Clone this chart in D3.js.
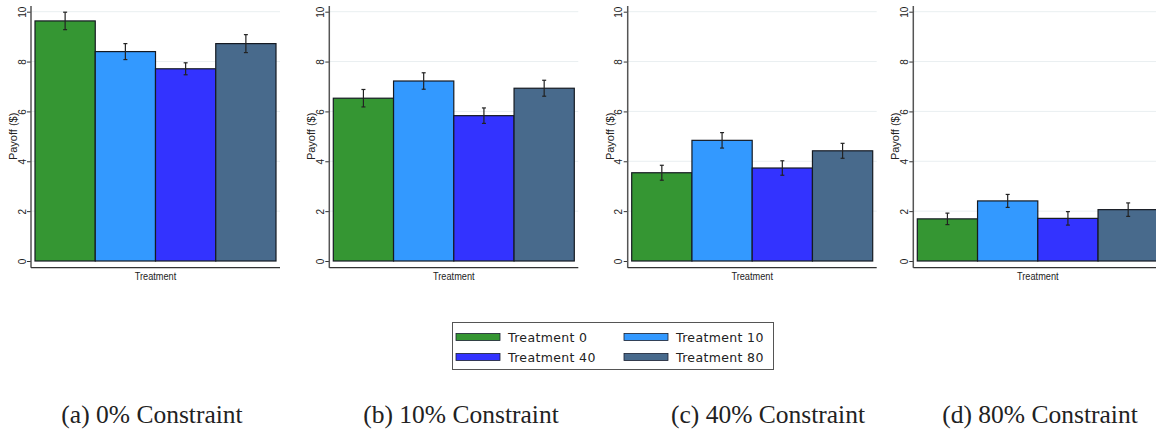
<!DOCTYPE html>
<html><head><meta charset="utf-8">
<script src="https://cdn.jsdelivr.net/npm/d3@7"></script>
<style>
html,body{margin:0;padding:0;background:#fff;overflow:hidden;}
svg{display:block;}
</style></head>
<body>
<svg id="chart" width="1156" height="430"></svg>
<script>
// ---- data ----
const categories = ["Treatment 0", "Treatment 10", "Treatment 40", "Treatment 80"];
const panelTitles = ["(a) 0% Constraint", "(b) 10% Constraint", "(c) 40% Constraint", "(d) 80% Constraint"];
const values0  = [9.63, 8.40, 7.71, 8.72];
const errors0  = [0.35, 0.32, 0.24, 0.36];
const values10 = [6.53, 7.22, 5.83, 6.93];
const errors10 = [0.35, 0.33, 0.31, 0.32];
const values40 = [3.54, 4.84, 3.73, 4.42];
const errors40 = [0.30, 0.31, 0.29, 0.30];
const values80 = [1.69, 2.41, 1.71, 2.06];
const errors80 = [0.23, 0.26, 0.27, 0.27];
const yTicks = [0, 2, 4, 6, 8, 10];
const xAxisTitle = "Treatment";
const yAxisTitle = "Payoff ($)";

const panelValues = [values0, values10, values40, values80];
const panelErrors = [errors0, errors10, errors40, errors80];

// ---- layout ----
const colors = ["#359633", "#3399ff", "#3333ff", "#486a8c"];
const axisX = [31, 329.3, 627.7, 913.3];
const captionX = [152, 461, 768, 1040];
const plotW = 241;
const yScale = d3.scaleLinear().domain([0, 10]).range([261, 11.7]);
const xAxisY = 267.7;

const svg = d3.select("#chart");
const sans = "'Liberation Sans', Arial, Helvetica, sans-serif";

panelValues.forEach((vals, p) => {
  const ax = axisX[p];
  const g = svg.append("g");
  const x = d3.scaleBand().domain(categories).range([ax + 4, ax + 4 + plotW]).padding(0);
  const rightEdge = ax + 4 + plotW + 4;

  // gridlines
  g.selectAll("line.grid").data(yTicks.filter(t => t > 0)).join("line")
    .attr("x1", ax).attr("x2", rightEdge)
    .attr("y1", d => yScale(d)).attr("y2", d => yScale(d))
    .attr("stroke", "#e9eff1").attr("stroke-width", 1);

  // bars
  g.selectAll("rect.bar").data(categories).join("rect")
    .attr("x", d => x(d)).attr("width", x.bandwidth())
    .attr("y", (d, i) => yScale(vals[i]))
    .attr("height", (d, i) => yScale(0) - yScale(vals[i]))
    .attr("fill", (d, i) => colors[i])
    .attr("stroke", "#151a22").attr("stroke-width", 1.2);

  // error bars
  const errs = panelErrors[p];
  const eg = g.selectAll("g.err").data(categories).join("g");
  eg.append("line")
    .attr("x1", d => x(d) + x.bandwidth() / 2).attr("x2", d => x(d) + x.bandwidth() / 2)
    .attr("y1", (d, i) => yScale(vals[i] + errs[i])).attr("y2", (d, i) => yScale(vals[i] - errs[i]))
    .attr("stroke", "#222").attr("stroke-width", 1.2);
  [1, -1].forEach(s => {
    eg.append("line")
      .attr("x1", d => x(d) + x.bandwidth() / 2 - 2).attr("x2", d => x(d) + x.bandwidth() / 2 + 2)
      .attr("y1", (d, i) => yScale(vals[i] + s * errs[i])).attr("y2", (d, i) => yScale(vals[i] + s * errs[i]))
      .attr("stroke", "#222").attr("stroke-width", 1.2);
  });

  // y axis
  const yAxis = d3.axisLeft(yScale).tickValues(yTicks).tickSize(4).tickPadding(3).tickFormat(d3.format("d"));
  const ya = g.append("g").attr("transform", `translate(${ax},0)`).call(yAxis);
  ya.select(".domain").remove();
  ya.append("line").attr("x1", 0).attr("x2", 0).attr("y1", 6).attr("y2", xAxisY)
    .attr("stroke", "#555").attr("stroke-width", 1.5);
  ya.selectAll(".tick line").attr("stroke", "#333").attr("stroke-width", 1);
  ya.selectAll(".tick text")
    .attr("font-family", sans).attr("font-size", 10).attr("fill", "#222")
    .attr("text-anchor", "middle")
    .attr("transform", "rotate(-90)")
    .attr("x", 0).attr("y", -5.5).attr("dy", "0em");

  // y title
  g.append("text")
    .attr("transform", `translate(${ax - 14},${(yScale(0) + yScale(10)) / 2}) rotate(-90)`)
    .attr("text-anchor", "middle")
    .attr("font-family", sans).attr("font-size", 11).attr("fill", "#222")
    .text(yAxisTitle);

  // x axis line
  g.append("line").attr("x1", ax).attr("x2", rightEdge).attr("y1", xAxisY).attr("y2", xAxisY)
    .attr("stroke", "#333").attr("stroke-width", 1.3);
  g.append("text")
    .attr("transform", `translate(${ax + 4 + plotW / 2},280) scale(0.8,1)`)
    .attr("text-anchor", "middle")
    .attr("font-family", sans)
    .attr("font-size", 11.5).attr("fill", "#222")
    .text(xAxisTitle);

  // caption
  svg.append("text")
    .attr("x", captionX[p]).attr("y", 423)
    .attr("text-anchor", "middle")
    .attr("font-family", "'Liberation Serif', 'Times New Roman', serif")
    .attr("font-size", 25.5).attr("fill", "#222")
    .text(panelTitles[p]);
});

// legend
const lg = svg.append("g");
lg.append("rect").attr("x", 452.5).attr("y", 322.5).attr("width", 321).attr("height", 47)
  .attr("fill", "#fff").attr("stroke", "#555").attr("stroke-width", 1);
const legPos = [[456, 333.5], [624, 333.5], [456, 353.5], [624, 353.5]];
categories.forEach((c, i) => {
  const [lx, ly] = legPos[i];
  lg.append("rect").attr("x", lx).attr("y", ly).attr("width", 44).attr("height", 7)
    .attr("fill", colors[i]).attr("stroke", "#1a2030").attr("stroke-width", 0.8);
  lg.append("text").attr("x", lx + 52).attr("y", ly + 8)
    .attr("font-family", "'DejaVu Sans', 'Liberation Sans', sans-serif")
    .attr("font-size", 12.5).attr("letter-spacing", 0.35).attr("fill", "#222")
    .text(c);
});
</script>
</body></html>
